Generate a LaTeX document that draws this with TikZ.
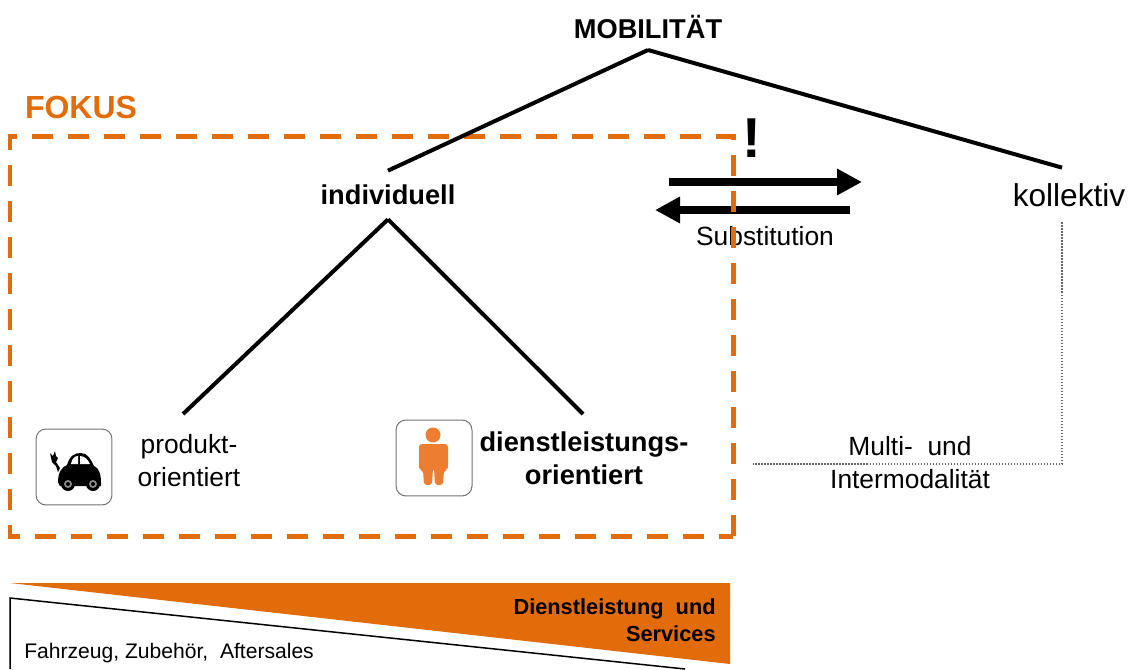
\documentclass[tikz,border=0pt]{standalone}
\usepackage{fontspec}
\setmainfont{Liberation Sans}
\usepackage{xcolor}
\usetikzlibrary{arrows.meta,positioning,shapes,calc}
\definecolor{fokus}{HTML}{E36C0A}
\definecolor{person}{HTML}{ED7D31}

\begin{document}
\begin{tikzpicture}[x=0.02cm, y=-0.02cm,
label/.style={inner sep=0pt, align=center, font=\fontsize{15}{18.8}\selectfont},
boldlabel/.style={label, font=\fontsize{15.5}{18.8}\selectfont\bfseries},
branch/.style={line width=0.08cm, black},
swap/.style={-{Triangle[length=0.5cm, width=0.5cm]}, line width=0.16cm, black},
iconbox/.style={draw=black!55, line width=0.02cm, rounded corners=0.2cm, fill=white},
thin link/.style={draw=black!60, line width=0.025cm, densely dotted}
]
\useasboundingbox (0,0) rectangle (1128,669);

% Substitution arrows
\coordinate (swapa) at (669,182);
\coordinate (swapb) at (862,182);
\coordinate (swapc) at (850,210);
\coordinate (swapd) at (655,210);
\draw[swap] (swapa) -- (swapb);
\draw[swap] (swapc) -- (swapd);
\node[label] (subst) at (765,236) {Substitution};

% Focus frame
\draw[fokus, line width=0.1cm, dash pattern=on 0.42cm off 0.3cm] (733,536) -- (733,136) -- (10,136) -- (10,536) -- cycle;
\node[inner sep=0pt, text=fokus, font=\fontsize{18.2}{20}\selectfont\bfseries] (fokuslabel) at (81,107) {FOKUS};
\node[inner sep=0pt, font=\fontsize{32}{34}\selectfont\bfseries] (mark) at (752,138) {!};

% Upper level
\node[boldlabel] (mobil) at (648,27) {MOBILITÄT};
\node[boldlabel, minimum height=0.96cm] (indiv) at (388,195) {individuell};
\node[label, font=\fontsize{18}{20}\selectfont, minimum height=1.08cm] (koll) at (1069,195) {kollektiv};
\coordinate (mobiltip) at (648,50);
\draw[branch] (mobiltip) -- (indiv.north);
\draw[branch] (mobiltip) -- ($(koll.north)+(-7,0)$);

% Lower level
\node[label] (produkt) at (189,461) {produkt-\\orientiert};
\node[boldlabel] (dienst) at (584,458) {dienstleistungs-\\orientiert};
\coordinate (prodtip) at (183,414);
\coordinate (diensttip) at (583,414);
\draw[branch] (indiv.south) -- (prodtip);
\draw[branch] (indiv.south) -- (diensttip);

% Car icon
\node[iconbox, minimum size=1.52cm] (carbox) at (74,467) {};
\fill[black] (58,482) .. controls (58,472) and (62,467) .. (67,465) .. controls (70,455) and (75,453) .. (81,453) .. controls (88,453) and (91,460) .. (94,466) .. controls (99,468) and (101,474) .. (101,483) -- (101,486) -- (60,486) -- cycle;
\fill[white] (71,464) .. controls (72,458) and (75,456) .. (78,456) -- (78,464) -- cycle;
\fill[white] (80,456) .. controls (85,456) and (88,460) .. (90,464) -- (80,464) -- cycle;
\fill[black] (58,472) -- (56,466) -- (52,462) -- (50,453) -- (53,456) -- (55,451) -- (56,456) -- (58,458) -- (56,462) -- (60,468) -- cycle;
\foreach \wheelx in {68,93} {
  \fill[black] (\wheelx,484) circle (0.14cm);
  \fill[black!45] (\wheelx,484) circle (0.08cm);
  \fill[black] (\wheelx,484) circle (0.04cm);
}

% Person icon
\node[iconbox, minimum size=1.52cm] (personbox) at (434,458) {};
\fill[person] (433,435) circle (0.15cm);
\fill[person, rounded corners=0.06cm] (419,470) -- (419,444) -- (448,444) -- (448,470) -- (444,470) -- (443,485) -- (435,485) -- (434,468) -- (433,468) -- (432,485) -- (424,485) -- (423,470) -- cycle;

% Multi- und Intermodalitaet link
\node[label] (multi) at (910,463) {Multi-\ \ und\\Intermodalität};
\coordinate (multiend) at (753,464);
\draw[thin link] (koll.south) ++(-7,0) |- (multiend);

% Bottom wedges
\fill[fokus] (10,583) -- (730,583) -- (730,664) -- cycle;
\draw[black, line width=0.03cm] (10,669) -- (10,598) -- (685,669);
\node[inner sep=0pt, align=right, anchor=east, font=\fontsize{12.4}{15.4}\selectfont\bfseries] (dienstservice) at (716,620) {Dienstleistung\ \ und\\Services};
\node[inner sep=0pt, anchor=west, font=\fontsize{12}{14}\selectfont] (fahrzeug) at (24,653) {Fahrzeug,\ Zubehör,\ \ Aftersales};

\end{tikzpicture}
\end{document}
